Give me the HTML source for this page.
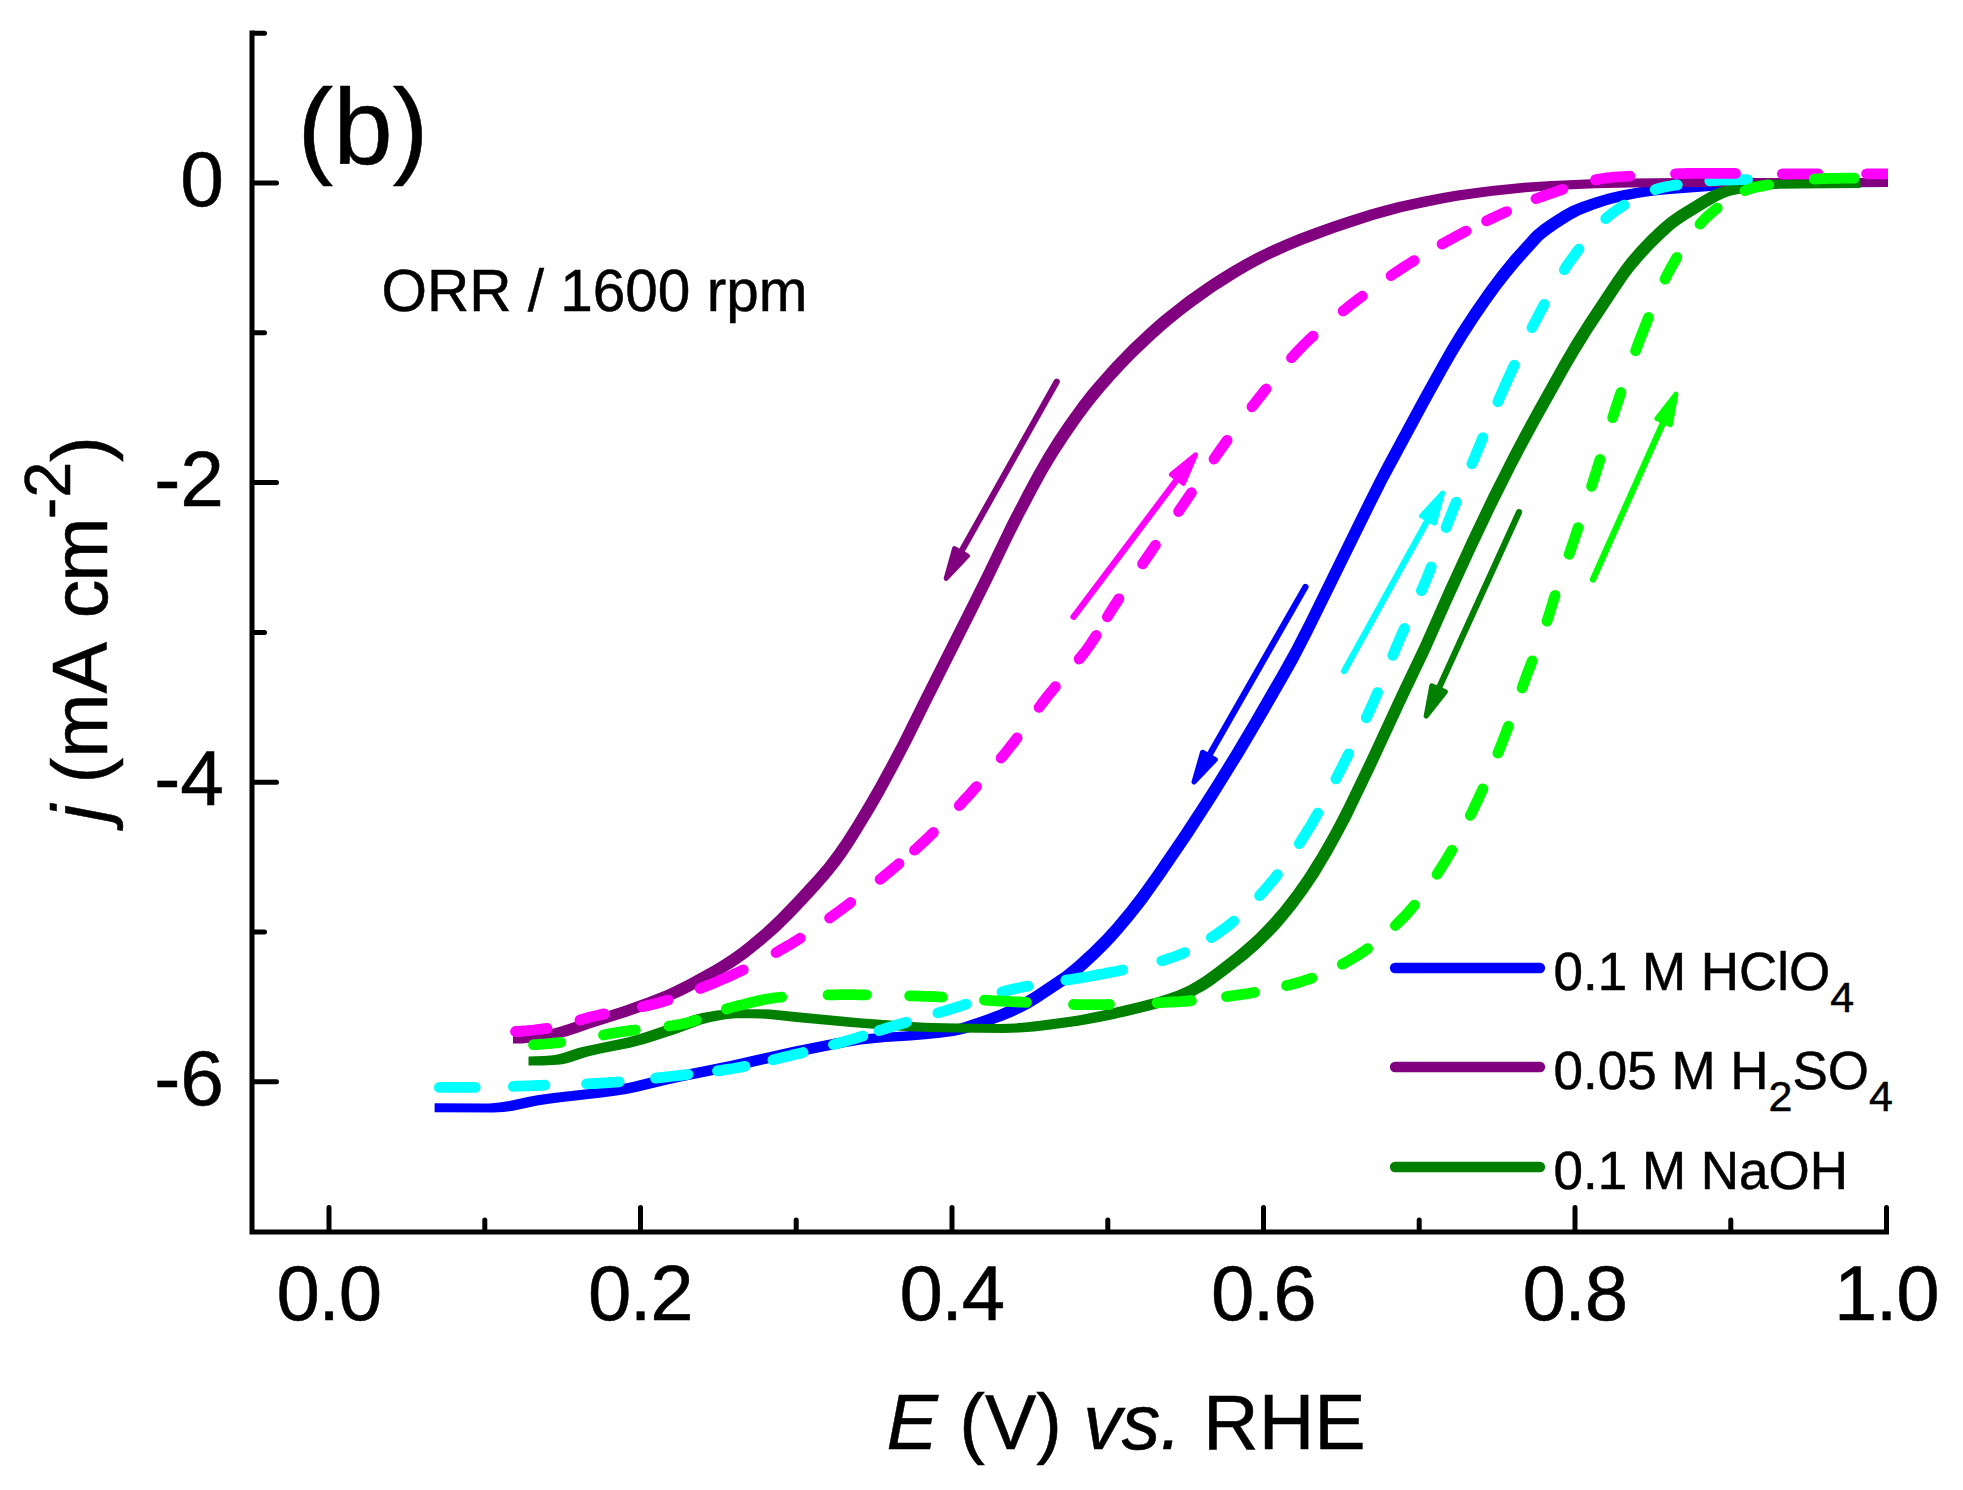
<!DOCTYPE html>
<html><head><meta charset="utf-8"><title>ORR 1600 rpm</title>
<style>html,body{margin:0;padding:0;background:#fff}svg{display:block}</style></head>
<body>
<svg width="1963" height="1490" viewBox="0 0 1963 1490" font-family="'Liberation Sans', sans-serif">
<rect width="1963" height="1490" fill="#fff"/>
<defs><clipPath id="c"><rect x="254" y="30" width="1634" height="1199"/></clipPath></defs>
<g clip-path="url(#c)">
<path d="M666.3,1073.8 656.6,1076 632.4,1082 617.7,1085.1 598,1088.1 553.4,1093.1 538.5,1095 528.7,1096.7 509.2,1100.9 499.4,1102.6 489.4,1103.5 484.7,1103.5 434.6,1103.2 434.6,1112.2 493.3,1112.4 503.3,1112.1 513.2,1110.7 537.6,1105.6 547.4,1103.9 562.3,1102 601.9,1097.6 616.8,1095.6 626.6,1094 636.4,1092 665.5,1084.9 680.1,1081.7 743.7,1068.9 797.2,1056.7 846.1,1047 860.9,1044.6 870.8,1043.4 885.7,1042.1 910.6,1040.4 925.5,1039.2 940.4,1037.7 955.2,1035.7 965,1033.6 974.6,1030.7 1002.8,1020.7 1012,1016.9 1021.1,1012.8 1029.9,1008.2 1038.5,1003 1067.6,983.8 1071.7,980.9 1079.5,974.7 1087.1,968.2 1098.1,958 1108.7,947.5 1115.5,940.2 1122.1,932.8 1131.8,921.3 1141.2,909.6 1147.2,901.7 1164.5,877.3 1192.6,836 1216.9,798.3 1243.1,755.9 1268.5,712.9 1288.4,678.3 1298.1,660.9 1311.9,634.3 1373.5,508.9 1386.9,482.2 1429.6,403.1 1446.5,372.6 1456.4,355.2 1466.8,338.2 1477.6,321.5 1488.9,305 1500.6,288.8 1509.8,277 1519.3,265.4 1539.3,243.2 1542.8,239.6 1550.5,233.4 1558.8,227.7 1571.4,219.7 1580.2,215 1594.1,209.4 1608.3,204.8 1622.8,201.1 1637.5,198 1652.3,195.7 1667.2,194.3 1726.9,189.8 1746.8,188.7 1816.6,187.4 1891.4,186.9 1891.4,178.1 1812.7,178.5 1737.9,179.8 1718,180.9 1663.2,184.9 1648.3,186.3 1638.4,187.5 1623.7,190 1609.1,193.3 1594.7,197.4 1580.5,202.3 1571.3,206.1 1562.5,210.8 1549.9,218.8 1541.6,224.5 1533.9,230.7 1530.4,234.3 1510.4,256.5 1497.8,272 1485.8,288 1471.5,308.4 1457.9,329.3 1447.5,346.3 1437.6,363.7 1418.3,398.6 1385.1,460 1375.8,477.7 1364.6,500 1305.2,620.9 1291.6,647.6 1277,673.7 1249.5,721.2 1231.7,751.2 1213.4,781 1197.3,806.2 1178.1,835.4 1152.8,872.5 1138.3,892.8 1126.1,908.6 1113.2,923.9 1103.2,935 1089.2,949.1 1074.4,962.6 1062.8,972 1033.8,991.4 1021,999.3 1012.2,1003.9 998.5,1009.9 984.5,1015.3 960.9,1023.3 951.2,1025.8 946.3,1026.8 931.5,1028.8 906.7,1031.2 866.9,1034 852,1035.7 837.2,1038.1 793.2,1046.7 729.9,1061Z" fill="#0000ff"/>
<path d="M747.2,942 739.3,948.2 731.2,954 722.9,959.5 714.4,964.7 701.4,972.1 688.2,979.3 674.8,986 665.8,990.2 647.3,997.6 623.8,1006 581,1019.7 566.9,1024.6 557.3,1027.6 547.6,1029.9 537.8,1031.8 523,1033.7 513,1034.5 513,1043.5 522,1043.5 531.9,1042.6 541.8,1041.4 551.6,1039.8 566.2,1036.5 575.8,1033.5 589.9,1028.6 627.9,1016.5 642.1,1011.6 665.5,1002.9 674.7,999.1 683.7,994.9 701.5,985.8 723.3,973.6 736,965.7 748.2,957.1 763.8,944.6 778.7,931.4 792.9,917.4 806.7,902.9 820.2,888.2 830,876.9 839.4,865.2 845.2,857.2 853.6,844.7 861.5,832.1 874.4,810.7 884.3,793.4 898.6,767.1 912.4,740.5 930.1,704.7 977.2,611.1 992.7,579.8 1012.2,539.3 1023.4,517.1 1037.4,490.6 1047,473.1 1057.2,456 1068.1,439.2 1082.3,418.7 1091.3,406.8 1097.5,399 1103.9,391.3 1113.8,380 1123.9,369 1134.3,358.3 1152.3,340.9 1163.4,331 1171,324.5 1182.7,315.1 1194.6,306 1214.9,291.6 1227.5,283.4 1240.2,275.6 1253.2,268.1 1266.4,261.1 1275.4,256.7 1289,250.6 1302.8,244.8 1316.8,239.4 1335.6,232.6 1354.5,226.2 1373.5,220.1 1387.8,215.9 1402.3,212.1 1421.8,207.7 1441.3,203.7 1456.1,201.1 1470.9,198.8 1490.6,196.1 1525.4,192.2 1550.2,190.3 1595.1,188.2 1630,187.5 1684.9,187 1894.5,186.9 1894.5,178.1 1681,178.1 1631.1,178.5 1591.2,179.2 1551.3,180.9 1521.4,182.9 1491.6,186 1457,190.6 1442.3,193 1422.6,196.7 1398.3,202.1 1383.8,205.7 1369.4,209.8 1350.3,215.7 1331.4,222.1 1312.6,228.7 1298.6,234.1 1284.7,239.7 1271,245.7 1257.5,252.2 1244.3,259.2 1231.3,266.7 1218.6,274.5 1206,282.7 1185.7,297.1 1166,312.4 1158.3,318.8 1147.1,328.7 1129,345.8 1111.6,363.7 1095,382.4 1088.6,390.1 1079.4,401.8 1064.8,422 1053.7,438.6 1043.2,455.6 1033.2,472.9 1023.8,490.5 1007.7,521.5 983.8,570.9 968.3,602.2 921.2,695.8 899,740.5 887.4,762.6 875.4,784.5 865.5,801.8 852.6,823.2 842,840 833.4,852.3 824.3,864.2 814.6,875.6 794.4,897.6 777,915.5 762.4,929.2Z" fill="#800080"/>
<path d="M761.5,1018.5 771.4,1019.3 796.2,1022 850.8,1027.1 895.6,1030.5 915.5,1031.6 930.5,1032.1 955.4,1032.6 1004.2,1032.9 1019.2,1032.6 1034.1,1031.4 1049,1029.7 1078.6,1025.7 1098.3,1022.3 1113,1019.2 1127.5,1015.9 1151.8,1010 1166.2,1006.1 1175.7,1003.1 1185.1,999.8 1194.3,995.9 1198.8,993.6 1203.1,991.2 1211.6,985.9 1219.7,980.1 1227.7,974.1 1247.3,958.7 1258.6,948.9 1269.4,938.6 1276.3,931.4 1283,924 1295.7,908.6 1307.5,892.5 1318.6,875.9 1331.4,854.5 1341.1,837.1 1350.4,819.4 1374.2,770 1405.7,702.1 1429.3,652.6 1451.5,602.4 1474.3,552.5 1495.7,507.4 1515.8,467.3 1527.4,445.2 1539.3,423.2 1568.5,371 1578.6,353.8 1591.7,332.6 1619.2,290.9 1627.6,278.6 1633.6,270.6 1643.2,259.2 1653.4,248.2 1664.1,237.7 1671.5,231 1675.3,227.8 1679.3,224.8 1687.6,219.2 1708.8,206.2 1717.5,201.2 1722,199 1726.6,197.1 1731.3,195.6 1746,192.6 1760.8,190.2 1770.7,189.2 1780.6,188.7 1800.6,188.4 1860.5,188.1 1860.5,179.2 1796.7,179.5 1771.7,179.8 1761.8,180.3 1751.9,181.3 1737.1,183.7 1722.4,186.7 1717.7,188.2 1713.1,190.1 1708.6,192.3 1699.9,197.3 1678.7,210.3 1670.4,215.9 1666.4,218.9 1658.8,225.4 1648,235.8 1637.7,246.6 1627.9,257.8 1621.7,265.7 1613,277.9 1585.5,319.5 1572.2,340.6 1559.6,362.1 1532.8,410 1520.8,431.9 1509.2,453.9 1489,494 1467.5,539 1444.6,588.9 1420.4,643.7 1396.8,693.2 1369.6,752.1 1352.4,788.1 1343.7,806 1334.6,823.8 1327.4,836.9 1317.5,854.2 1304.2,875.4 1292.8,891.7 1280.6,907.4 1274.1,915.1 1267.4,922.5 1257,933.2 1249.7,940 1242.2,946.6 1234.5,953 1218.8,965.2 1210.8,971.2 1202.7,977 1194.2,982.3 1189.9,984.7 1185.4,987 1176.2,990.9 1166.8,994.2 1157.3,997.2 1138,1002.3 1104.1,1010.3 1079.6,1015.2 1069.7,1016.8 1040.1,1020.8 1025.2,1022.5 1015.3,1023.4 1000.3,1024 989.3,1024 944.4,1023.3 924.4,1022.7 904.5,1021.6 859.7,1018.2 805.1,1013.1 780.3,1010.4 770.4,1009.6 760.4,1009.3 731.5,1009.2 726.6,1009.4 716.6,1010.4 701.9,1013 692.3,1015.6 668.9,1024.3 645.3,1032.2 635.7,1035.2 626.1,1037.7 582.1,1046.9 577.3,1048.2 563.1,1052.9 558.3,1054.3 553.4,1055.3 543.5,1056.1 528.5,1056.5 528.5,1065.5 542.4,1065.4 557.4,1064.8 562.3,1064.2 567.2,1063.2 572,1061.8 586.2,1057.1 591,1055.8 600.8,1053.6 630.1,1047.7 644.6,1044.1 654.2,1041.1 677.8,1033.2 701.2,1024.5 710.8,1021.9 725.5,1019.3 735.5,1018.3 751.5,1018.2Z" fill="#008000"/>
<path d="M439.4,1087.4 443.4,1087.4 447.4,1087.4 451.3,1087.4 455.3,1087.4 459.3,1087.4 463.3,1087.4 467.3,1087.4 471.2,1087.4 475.2,1087.4M513.3,1086.4 517.3,1086.2 521.2,1086.1 525.2,1085.9 529.1,1085.8 533.1,1085.6 537,1085.5 540.9,1085.4 544.9,1085.2M586.5,1083.8 590.1,1083.6 593.8,1083.5 597.4,1083.3 601,1083.1 604.6,1082.9 608.2,1082.7 611.8,1082.4 615.4,1082.2 619.1,1081.9M655.5,1078.2 659.1,1077.7 662.7,1077.3 666.3,1076.9 669.9,1076.5 673.6,1076.1 677.2,1075.7 680.8,1075.3 684.4,1074.9 688,1074.5M717.5,1070.9 721.5,1070.3 725.4,1069.7 729.3,1069.1 733.3,1068.5 737.2,1067.8 741.1,1067.1 745,1066.3M772.9,1059.9 776.7,1058.9 780.5,1058 784.2,1057.1 788,1056.2 791.8,1055.3 795.5,1054.3 799.3,1053.4 803.1,1052.5M833.5,1044.6 837.2,1043.6 840.9,1042.5 844.6,1041.5 848.2,1040.4 851.9,1039.4 855.6,1038.3 859.2,1037.1 862.9,1036M879,1030.7 882.4,1029.6 885.8,1028.5 889.2,1027.4 892.7,1026.3 896.1,1025.3 899.5,1024.2 902.9,1023.2 906.4,1022.2M937.9,1012.9 941.4,1011.9 945,1010.8 948.5,1009.8 952,1008.7 955.5,1007.6 959.1,1006.5 962.6,1005.3 966.1,1004.1M1002,992 1005.7,991 1009.4,990 1013.1,989.1 1016.9,988.3 1020.6,987.5 1024.4,986.8 1028.1,986.1M1065.8,980.2 1069.7,979.6 1073.5,979 1077.3,978.4 1081.1,977.8 1084.9,977.2 1088.7,976.5 1092.5,975.8 1096.3,975.1 1100,974.4 1103.8,973.7 1107.6,972.9 1111.4,972.2 1115.2,971.5 1119,970.7 1122.7,970M1161.8,960.8 1165.1,959.8 1168.4,958.7 1171.7,957.7 1175,956.5 1178.2,955.3 1181.4,954 1184.6,952.6M1211.4,937.6 1214.7,935.4 1217.9,933.2 1221.1,930.9 1224.3,928.6 1227.5,926.2 1230.5,923.8 1233.6,921.2M1259.6,895.7 1262.2,892.8 1264.8,889.8 1267.4,886.8 1269.9,883.8 1272.5,880.8 1274.9,877.8 1277.4,874.7M1299.3,843.6 1301.4,840.3 1303.6,836.9 1305.7,833.6 1307.8,830.2 1309.9,826.8 1311.9,823.4 1313.9,820 1315.9,816.5 1317.9,813.1M1335.9,778.9 1337.8,775.3 1339.6,771.7 1341.4,768.2 1343.2,764.6 1345,761.1 1346.8,757.5 1348.6,753.9M1366.3,717.8 1367.9,714.2 1369.6,710.6 1371.2,707 1372.8,703.5 1374.4,699.9 1376,696.2 1377.5,692.6M1392.8,655.4 1394.2,652.1 1395.6,648.7 1397,645.3 1398.5,641.9 1399.9,638.5 1401.4,635.2 1402.9,631.8 1404.4,628.5M1421.4,590.7 1422.9,587.4 1424.3,584 1425.8,580.6 1427.2,577.2 1428.5,573.8 1429.9,570.4 1431.2,567M1446.1,527.5 1447.5,523.9 1448.9,520.3 1450.4,516.6 1451.8,513 1453.2,509.4 1454.7,505.8 1456.2,502.1M1471.9,463.8 1473.3,460.6 1474.7,457.3 1476,454 1477.4,450.7 1478.8,447.5 1480.1,444.2 1481.5,440.9 1482.8,437.6M1497.9,401.8 1499.3,398.5 1500.8,395.1 1502.2,391.8 1503.7,388.4 1505.2,385.1 1506.7,381.8 1508.2,378.4 1509.7,375.1 1511.2,371.8 1512.7,368.5 1514.2,365.2M1532,327.7 1533.7,324.3 1535.5,321 1537.2,317.7 1538.9,314.3 1540.7,311 1542.5,307.7 1544.2,304.4M1564.4,269.7 1566.3,266.7 1568.4,263.7 1570.4,260.8 1572.5,257.9 1574.6,255 1576.7,252.1 1578.9,249.2M1605.7,218.6 1608.6,216.1 1611.6,213.7 1614.6,211.5 1617.7,209.3 1620.9,207.2 1624.1,205.1M1655.2,189.6 1658.8,188.4 1662.4,187.5 1666.1,186.7 1669.9,186 1673.6,185.4 1677.3,184.8M1709.8,180.9 1713.6,180.7 1717.4,180.4 1721.1,180.2 1724.9,180.1 1728.7,180 1732.4,179.9 1736.2,179.8 1740,179.7 1743.7,179.6 1747.5,179.6" fill="none" stroke="#00ffff" stroke-width="10.8" stroke-linecap="round" stroke-linejoin="round"/>
<path d="M515.5,1031.5 519.5,1031.3 523.4,1031 527.4,1030.7 531.3,1030.3 535.3,1029.9 539.2,1029.4 543.1,1028.9 547.1,1028.4M580,1020 583.5,1019 586.9,1018 590.3,1017 593.8,1016.2 597.3,1015.4 600.8,1014.6 604.3,1013.9M642.4,1006.7 646.1,1005.9 649.8,1005.1 653.5,1004.2 657.1,1003.2 660.7,1002.2 664.4,1001.2 668,1000.1M700.3,988.6 703.9,987.1 707.5,985.6 711.1,984.2 714.7,982.7 718.3,981.1 721.9,979.6 725.5,978.1 729,976.5 732.6,974.9 736.1,973.2 739.6,971.6 743.2,969.9M776.1,952.6 779.1,950.8 782.2,949.1 785.2,947.3 788.3,945.6 791.3,943.8 794.3,941.9 797.3,940.1 800.2,938.2M829.6,918 832.7,915.9 835.7,913.7 838.7,911.5 841.7,909.3 844.7,907 847.7,904.8 850.7,902.5M880.1,879.4 882.8,877.2 885.5,874.9 888.2,872.7 890.9,870.5 893.6,868.2 896.3,866 899,863.7M914.5,850.2 917.3,847.7 920,845.2 922.7,842.7 925.4,840.2 928.1,837.6 930.7,835.1 933.4,832.5M959.3,805.5 961.8,802.9 964.2,800.2 966.7,797.5 969.2,794.8 971.6,792.1 974,789.4 976.5,786.7M1001.1,758 1003.5,755.2 1005.8,752.4 1008.1,749.5 1010.3,746.6 1012.6,743.8 1014.8,740.9 1017,737.9M1039.1,707.4 1041.3,704.4 1043.6,701.4 1045.9,698.4 1048.2,695.4 1050.6,692.5 1053,689.6 1055.4,686.7M1079.2,659 1081.5,656.2 1083.8,653.3 1086,650.5 1088.1,647.5 1090.2,644.6 1092.2,641.6 1094.2,638.5 1096.2,635.5M1107.4,616.9 1109.2,613.8 1111.1,610.8 1113,607.8 1115,604.8 1116.9,601.8 1118.9,598.8M1142.6,563.9 1144.7,560.8 1146.9,557.7 1149,554.6 1151.1,551.5 1153.3,548.3 1155.4,545.2M1178.6,511.5 1180.7,508.4 1182.9,505.2 1185,502.1 1187.1,499 1189.3,495.8 1191.4,492.7M1214,459 1216.2,455.8 1218.4,452.7 1220.5,449.7 1222.7,446.6 1224.9,443.5 1227.1,440.4M1252,406.8 1254.4,403.9 1256.7,400.9 1259,397.9 1261.4,394.9 1263.7,391.9 1266,389M1291.5,357.9 1294.1,355.1 1296.7,352.2 1299.3,349.5 1302,346.7 1304.7,344 1307.4,341.4 1310.2,338.7 1313.1,336.1M1343.1,311 1345.8,308.9 1348.5,306.7 1351.2,304.6 1353.9,302.5 1356.7,300.4 1359.4,298.3 1362.2,296.2M1391.1,275.6 1394.3,273.4 1397.6,271.2 1400.9,269 1404.2,266.9 1407.5,264.8 1410.8,262.7 1414.1,260.6M1442.1,244 1445.5,242.1 1448.9,240.2 1452.3,238.4 1455.8,236.5 1459.2,234.7 1462.7,232.9 1466.1,231.1M1486.6,220.9 1489.9,219.3 1493.3,217.8 1496.6,216.2 1499.9,214.7 1503.2,213.1 1506.6,211.6M1536,198.7 1539.3,197.5 1542.7,196.3 1546,195.2 1549.4,194 1552.7,192.9 1556.1,191.7 1559.4,190.5 1562.8,189.4M1595.5,179.9 1599.2,179.1 1603,178.5 1606.9,177.9 1610.7,177.5 1614.5,177.2 1618.4,176.9 1622.2,176.6 1626.1,176.3 1629.9,176.1M1675.5,173.8 1679.5,173.7 1683.5,173.6 1687.5,173.5 1691.5,173.4 1695.5,173.4 1699.5,173.3 1703.5,173.3 1707.5,173.3 1711.5,173.3 1715.5,173.3 1719.5,173.3 1723.5,173.3 1727.5,173.4 1731.5,173.4 1735.5,173.4M1782.4,173.8 1786.4,173.8 1790.3,173.8 1794.3,173.8 1798.3,173.8 1802.2,173.8 1806.2,173.8 1810.2,173.8 1814.1,173.8 1818.1,173.8M1866.6,173.8 1870.2,173.8 1873.7,173.8 1877.3,173.8 1880.8,173.8 1884.4,173.8 1887.9,173.8 1891.5,173.8 1895,173.8" fill="none" stroke="#ff00ff" stroke-width="10.8" stroke-linecap="round" stroke-linejoin="round"/>
<path d="M533.5,1044.7 537.4,1044.5 541.3,1044.2 545.3,1043.9 549.2,1043.5 553.1,1043.2 556.9,1042.8 560.8,1042.4M603.5,1035 607,1034.3 610.5,1033.6 614.1,1033 617.6,1032.4 621.1,1031.8 624.7,1031.3 628.2,1030.8 631.8,1030.4 635.3,1030M668.9,1026 672.9,1025.5 676.8,1024.9 680.7,1024.2 684.6,1023.4 688.5,1022.5 692.3,1021.4 696.1,1020.2M726.3,1009 729.9,1007.9 733.6,1006.9 737.2,1006 740.9,1005.1 744.6,1004.1 748.2,1003.2 751.9,1002.3 755.6,1001.4 759.3,1000.6 763,999.8 766.7,999.1 770.5,998.5 774.2,997.9 778,997.5 781.7,997.1M828,994.9 831.9,994.9 835.7,994.8 839.5,994.7 843.4,994.7 847.2,994.7 851.1,994.7 854.9,994.7 858.7,994.8 862.6,994.8 866.4,994.8M909.6,995.8 913.2,995.9 916.9,996.1 920.5,996.2 924.1,996.3 927.7,996.4 931.4,996.5 935,996.7 938.6,996.9 942.3,997.1M984.5,1000.1 988.3,1000.3 992.1,1000.6 995.9,1000.8 999.7,1001 1003.5,1001.2 1007.3,1001.4 1011.2,1001.6 1015,1001.8 1018.8,1002 1022.6,1002.2 1026.4,1002.4M1073.5,1004.5 1077.5,1004.6 1081.5,1004.6 1085.5,1004.7 1089.5,1004.7 1093.5,1004.7 1097.5,1004.7 1101.5,1004.6 1105.5,1004.6 1109.5,1004.5M1157.1,1002.8 1160.9,1002.6 1164.7,1002.4 1168.5,1002.2 1172.3,1002 1176.2,1001.8 1180,1001.6 1183.8,1001.3 1187.6,1001 1191.4,1000.7M1226.5,996.6 1230,996.1 1233.5,995.6 1237,995.1 1240.5,994.6 1244,994.1 1247.5,993.6 1251,993 1254.5,992.4M1286.6,985.6 1290.3,984.7 1293.9,983.7 1297.5,982.7 1301.1,981.7 1304.7,980.5 1308.3,979.3 1311.9,978.1M1342.3,964.2 1345.6,962.4 1348.8,960.6 1352,958.8 1355.2,956.9 1358.4,954.9 1361.5,952.9 1364.6,950.9 1367.6,948.7M1395.4,925.5 1398.2,922.7 1401,919.9 1403.8,917.1 1406.6,914.2 1409.2,911.2 1411.8,908.2 1414.4,905.2M1437,874.3 1438.9,871.3 1440.8,868.3 1442.7,865.3 1444.6,862.3 1446.5,859.3 1448.3,856.2 1450.1,853.2 1451.9,850.1M1470.3,815.4 1472,812.1 1473.6,808.8 1475.1,805.5 1476.7,802.1 1478.3,798.8 1479.8,795.5 1481.4,792.1 1482.9,788.8M1497.9,753.1 1499.3,749.7 1500.6,746.4 1501.9,743 1503.3,739.7 1504.6,736.3 1505.8,732.9 1507.1,729.5 1508.4,726.2M1522.1,688 1523.3,684.6 1524.5,681.2 1525.8,677.8 1527,674.4 1528.3,671 1529.6,667.7 1530.9,664.3 1532.2,660.9M1547,621.1 1548.2,617.4 1549.4,613.8 1550.5,610.1 1551.6,606.5 1552.7,602.8 1553.8,599.2 1555,595.5M1569.1,554.3 1570.3,551 1571.4,547.7 1572.5,544.4 1573.7,541 1574.8,537.7 1575.9,534.4 1577,531 1578.1,527.7M1591.6,486.3 1592.6,483 1593.7,479.6 1594.8,476.3 1595.8,472.9 1596.9,469.6 1597.9,466.3 1598.9,462.9 1600,459.5M1612.7,417.7 1613.8,414.1 1615,410.5 1616.1,406.9 1617.3,403.3 1618.5,399.7 1619.7,396.1 1620.9,392.5M1635.6,350.8 1637,347.1 1638.4,343.4 1639.8,339.7 1641.2,336 1642.7,332.3 1644.1,328.6 1645.6,324.9 1647,321.2 1648.5,317.5M1665,279.2 1666.6,276.1 1668.2,272.9 1669.9,269.8 1671.6,266.7 1673.3,263.6 1675.1,260.5 1676.8,257.5M1700,224.1 1702.6,221.2 1705.4,218.4 1708.2,215.7 1711.2,213.1 1714.2,210.5 1717.2,208.1M1745,190.7 1748.3,189.5 1751.6,188.4 1754.9,187.5 1758.3,186.8 1761.8,186.1 1765.2,185.4 1768.6,184.8M1814.3,179.1 1818.3,178.8 1822.3,178.6 1826.3,178.5 1830.3,178.4 1834.3,178.3 1838.3,178.3 1842.3,178.2 1846.3,178.2 1850.3,178.2 1854.3,178.1" fill="none" stroke="#00ff00" stroke-width="10.8" stroke-linecap="round" stroke-linejoin="round"/>
</g>
<line x1="1056.7" y1="381.7" x2="960.9" y2="552.3" stroke="#800080" stroke-width="6.3" stroke-linecap="round"/><polygon points="946.2,578.4 954.5,548.6 967.4,555.9" fill="#800080" stroke="#800080" stroke-width="5" stroke-linejoin="round"/>
<line x1="1073.6" y1="616.8" x2="1177.5" y2="478.9" stroke="#ff00ff" stroke-width="6.3" stroke-linecap="round"/><polygon points="1195.5,454.9 1183.4,483.3 1171.5,474.4" fill="#ff00ff" stroke="#ff00ff" stroke-width="5" stroke-linejoin="round"/>
<line x1="1305.4" y1="587.0" x2="1208.9" y2="755.9" stroke="#0000ff" stroke-width="6.3" stroke-linecap="round"/><polygon points="1194.0,781.9 1202.5,752.2 1215.4,759.6" fill="#0000ff" stroke="#0000ff" stroke-width="5" stroke-linejoin="round"/>
<line x1="1344.2" y1="670.9" x2="1428.0" y2="519.4" stroke="#00ffff" stroke-width="6.3" stroke-linecap="round"/><polygon points="1442.5,493.2 1434.5,523.0 1421.5,515.9" fill="#00ffff" stroke="#00ffff" stroke-width="5" stroke-linejoin="round"/>
<line x1="1519.0" y1="512.2" x2="1438.6" y2="688.8" stroke="#008000" stroke-width="6.3" stroke-linecap="round"/><polygon points="1426.1,716.1 1431.8,685.8 1445.3,691.9" fill="#008000" stroke="#008000" stroke-width="5" stroke-linejoin="round"/>
<line x1="1593.0" y1="579.4" x2="1663.6" y2="421.6" stroke="#00ff00" stroke-width="6.3" stroke-linecap="round"/><polygon points="1675.9,394.2 1670.4,424.6 1656.9,418.5" fill="#00ff00" stroke="#00ff00" stroke-width="5" stroke-linejoin="round"/>
<path d="M252,30.5 V1232 H1889" fill="none" stroke="#000" stroke-width="5" stroke-linejoin="miter"/>
<line x1="253" x2="276.5" y1="183.0" y2="183.0" stroke="#000" stroke-width="5" stroke-linecap="round"/>
<line x1="253" x2="276.5" y1="482.6" y2="482.6" stroke="#000" stroke-width="5" stroke-linecap="round"/>
<line x1="253" x2="276.5" y1="782.2" y2="782.2" stroke="#000" stroke-width="5" stroke-linecap="round"/>
<line x1="253" x2="276.5" y1="1081.8" y2="1081.8" stroke="#000" stroke-width="5" stroke-linecap="round"/>
<line x1="253" x2="264.5" y1="33.2" y2="33.2" stroke="#000" stroke-width="5" stroke-linecap="round"/>
<line x1="253" x2="264.5" y1="332.8" y2="332.8" stroke="#000" stroke-width="5" stroke-linecap="round"/>
<line x1="253" x2="264.5" y1="632.4" y2="632.4" stroke="#000" stroke-width="5" stroke-linecap="round"/>
<line x1="253" x2="264.5" y1="932.0" y2="932.0" stroke="#000" stroke-width="5" stroke-linecap="round"/>
<line y1="1231" y2="1207.5" x1="329.0" x2="329.0" stroke="#000" stroke-width="5" stroke-linecap="round"/>
<line y1="1231" y2="1207.5" x1="640.5" x2="640.5" stroke="#000" stroke-width="5" stroke-linecap="round"/>
<line y1="1231" y2="1207.5" x1="952.0" x2="952.0" stroke="#000" stroke-width="5" stroke-linecap="round"/>
<line y1="1231" y2="1207.5" x1="1263.5" x2="1263.5" stroke="#000" stroke-width="5" stroke-linecap="round"/>
<line y1="1231" y2="1207.5" x1="1575.0" x2="1575.0" stroke="#000" stroke-width="5" stroke-linecap="round"/>
<line y1="1231" y2="1207.5" x1="1886.5" x2="1886.5" stroke="#000" stroke-width="5" stroke-linecap="round"/>
<line y1="1231" y2="1220" x1="484.8" x2="484.8" stroke="#000" stroke-width="5" stroke-linecap="round"/>
<line y1="1231" y2="1220" x1="796.2" x2="796.2" stroke="#000" stroke-width="5" stroke-linecap="round"/>
<line y1="1231" y2="1220" x1="1107.8" x2="1107.8" stroke="#000" stroke-width="5" stroke-linecap="round"/>
<line y1="1231" y2="1220" x1="1419.2" x2="1419.2" stroke="#000" stroke-width="5" stroke-linecap="round"/>
<line y1="1231" y2="1220" x1="1730.8" x2="1730.8" stroke="#000" stroke-width="5" stroke-linecap="round"/>
<text x="328.5" y="1319.5" font-size="78" text-anchor="middle" letter-spacing="-1.4" stroke="#000" stroke-width="0.5">0.0</text>
<text x="640.0" y="1319.5" font-size="78" text-anchor="middle" letter-spacing="-1.4" stroke="#000" stroke-width="0.5">0.2</text>
<text x="951.5" y="1319.5" font-size="78" text-anchor="middle" letter-spacing="-1.4" stroke="#000" stroke-width="0.5">0.4</text>
<text x="1263.0" y="1319.5" font-size="78" text-anchor="middle" letter-spacing="-1.4" stroke="#000" stroke-width="0.5">0.6</text>
<text x="1574.5" y="1319.5" font-size="78" text-anchor="middle" letter-spacing="-1.4" stroke="#000" stroke-width="0.5">0.8</text>
<text x="1886.0" y="1319.5" font-size="78" text-anchor="middle" letter-spacing="-1.4" stroke="#000" stroke-width="0.5">1.0</text>
<text x="224" y="206.0" font-size="78.5" text-anchor="end" stroke="#000" stroke-width="0.5">0</text>
<text x="224" y="505.6" font-size="78.5" text-anchor="end" stroke="#000" stroke-width="0.5">-2</text>
<text x="224" y="805.2" font-size="78.5" text-anchor="end" stroke="#000" stroke-width="0.5">-4</text>
<text x="224" y="1104.8" font-size="78.5" text-anchor="end" stroke="#000" stroke-width="0.5">-6</text>
<text x="886.5" y="1449.3" font-size="77" stroke="#000" stroke-width="0.5"><tspan font-style="italic">E</tspan> (V) <tspan font-style="italic">vs.</tspan> RHE</text>
<text transform="translate(107,822) rotate(-90)" font-size="77.2" stroke="#000" stroke-width="0.5"><tspan font-style="italic">j</tspan> (mA<tspan dx="6.5"> c</tspan><tspan dx="-2">m</tspan><tspan font-size="65" dx="-2" dy="-37">-2</tspan><tspan dy="37" dx="-0.5">)</tspan></text>
<text x="297.5" y="163.5" font-size="107" stroke="#000" stroke-width="0.5">(b)</text>
<text x="381.5" y="310.5" font-size="58.5" stroke="#000" stroke-width="0.5">ORR / 1600 rpm</text>
<line x1="1395" x2="1540" y1="968" y2="968" stroke="#0000ff" stroke-width="10.3" stroke-linecap="round"/>
<text x="1553.5" y="989.6" font-size="53" stroke="#000" stroke-width="0.5">0.1 M HClO<tspan font-size="43" dy="22">4</tspan></text>
<line x1="1395" x2="1540" y1="1067" y2="1067" stroke="#800080" stroke-width="10.3" stroke-linecap="round"/>
<text x="1553.5" y="1088.6" font-size="53" stroke="#000" stroke-width="0.5">0.05 M H<tspan font-size="43" dy="22">2</tspan><tspan dy="-22">SO</tspan><tspan font-size="43" dy="22">4</tspan></text>
<line x1="1395" x2="1540" y1="1167" y2="1167" stroke="#008000" stroke-width="10.3" stroke-linecap="round"/>
<text x="1553.5" y="1188.6" font-size="53" stroke="#000" stroke-width="0.5">0.1 M NaOH</text>
</svg>
</body></html>
